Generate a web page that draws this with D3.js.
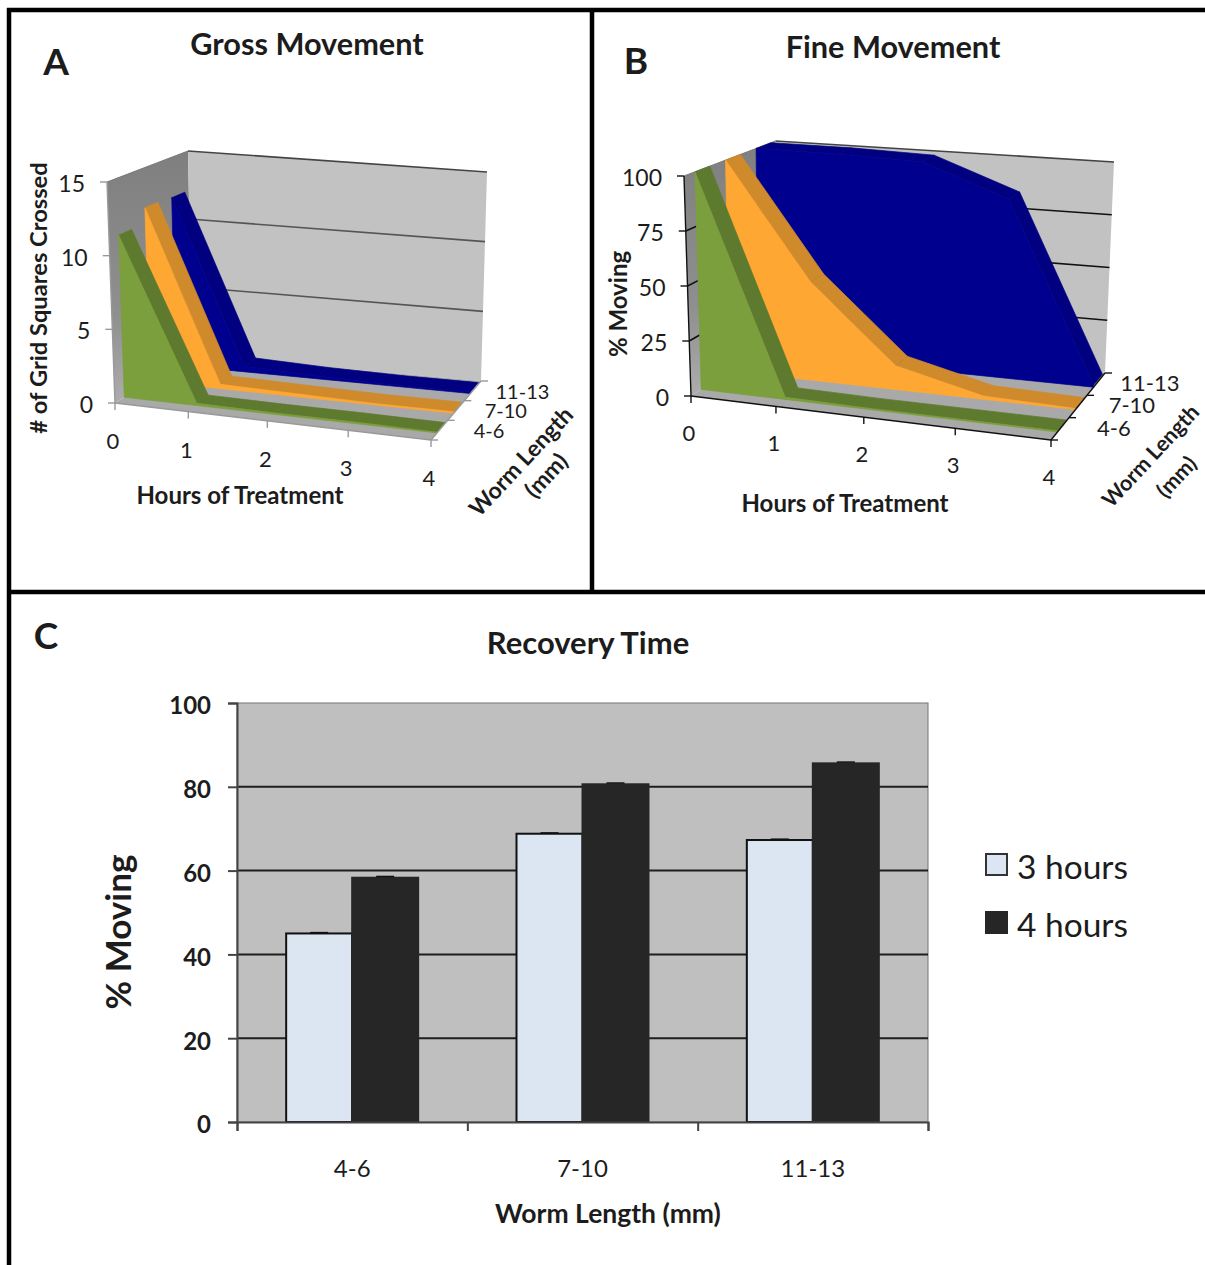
<!DOCTYPE html>
<html>
<head>
<meta charset="utf-8">
<script src="https://cdn.jsdelivr.net/npm/d3@7"></script>
<style>
  html, body { margin: 0; padding: 0; background: #fff; }
  svg { display: block; }
  text { font-family: Lato, "Open Sans", sans-serif; fill: #1c1c1c; }
</style>
</head>
<body>
<div id="chart"></div>
<script>
// panels A and B
const hours = [0, 1, 2, 3, 4];
const lengths = ['4-6', '7-10', '11-13'];
const grossTicks = [0, 5, 10, 15];
const gross46 = [11.1, 0.15, 0.1, 0.1, 0.05];
const gross710 = [12.2, 0.3, 0.2, 0.1, 0.1];
const gross1113 = [12.1, 0.4, 0.2, 0.1, 0.1];
const fineTicks = [0, 25, 50, 75, 100];
const fine46 = [100, 1, 0.5, 0.5, 0.5];
const fine710 = [100, 46, 11, 1.5, 0.5];
const fine1113 = [100, 100, 99, 84, 1];

// panel C
const recoveryTicks = [0, 20, 40, 60, 80, 100];
const recoverySeries = ['3 hours', '4 hours'];
const recovery3h = [45, 68.8, 67.3];
const recovery4h = [58.3, 80.6, 85.6];
const recoveryErr3h = [0.2, 0.2, 0.2];
const recoveryErr4h = [0.3, 0.3, 0.3];

const W = 1205, H = 1265;
const svg = d3.select('#chart').append('svg').attr('width', W).attr('height', H);

const defs = svg.append('defs');
const wallGrad = defs.append('linearGradient').attr('id', 'wall').attr('x1', 0).attr('x2', 0).attr('y1', 0).attr('y2', 1);
wallGrad.append('stop').attr('offset', '0%').attr('stop-color', '#7f7f7f');
wallGrad.append('stop').attr('offset', '65%').attr('stop-color', '#8f8f8f');
wallGrad.append('stop').attr('offset', '100%').attr('stop-color', '#adadad');

function label(g, x, y, txt, size, weight, anchor) {
  return g.append('text').attr('x', x).attr('y', y)
    .attr('font-size', size)
    .attr('font-weight', weight || 400)
    .attr('text-anchor', anchor || 'middle')
    .text(txt);
}

function area3d(p) {
  const g = svg.append('g');
  const c = p.corners;
  const hx = d3.scaleLinear().domain(hours).range(p.hourFrac);
  const vy = d3.scaleLinear().domain([0, d3.max(p.ticks)]).range([0, 1]);
  const band = d3.scaleBand().domain(lengths).range([0.12, 0.95]).paddingInner(0.515);
  const lerp = d3.interpolateNumber;

  // the box is a cube squeezed onto its eight picture corners
  function project(h, v, d) {
    const t = hx(h), u = vy(v);
    const pt = k => {
      const front = lerp(lerp(c.fl0[k], c.fr0[k])(t), lerp(c.fl1[k], c.fr1[k])(t))(u);
      const back = lerp(lerp(c.bl0[k], c.br0[k])(t), lerp(c.bl1[k], c.br1[k])(t))(u);
      return lerp(front, back)(d);
    };
    return [pt(0), pt(1)];
  }
  const poly = (pts, fill, edge) => g.append('path')
    .attr('d', d3.line()(pts) + 'Z')
    .attr('fill', fill)
    .attr('stroke', edge ? fill : 'none')
    .attr('stroke-width', edge ? 0.7 : 0);
  const seg = (a, b, color, w) => g.append('line')
    .attr('x1', a[0]).attr('y1', a[1]).attr('x2', b[0]).attr('y2', b[1])
    .attr('stroke', color).attr('stroke-width', w);

  const [h0, h1] = d3.extent(hours);
  const vMax = d3.max(p.ticks);

  // walls and floor
  poly([project(h0, 0, 0), project(h0, vMax, 0), project(h0, vMax, 1), project(h0, 0, 1)], 'url(#wall)');
  poly([project(h0, 0, 1), project(h0, vMax, 1), project(h1, vMax, 1), project(h1, 0, 1)], '#c2c2c2');
  poly([project(h0, 0, 0), project(h1, 0, 0), project(h1, 0, 1), project(h0, 0, 1)], '#a9a9a9');

  // gridlines
  p.ticks.filter(t => t > 0).forEach(t => {
    seg(project(h0, t, 1), project(h1, t, 1), t === vMax ? '#444' : p.gridColor, 1.6);
    if (p.leftGrid && t < vMax) seg(project(h0, t, 0), project(h0, t, 0.12), p.gridColor, 1.6);
  });
  seg(project(h0, vMax, 0), project(h0, vMax, 1), '#777', 1);

  // series, back to front
  lengths.map((len, i) => i).reverse().forEach(i => {
    const vals = p.series[i];
    const d0 = band(lengths[i]), d1 = d0 + band.bandwidth();
    const col = p.colors[i];
    hours.slice(1).forEach((h, k) => {
      poly([project(hours[k], vals[k], d0), project(h, vals[k + 1], d0),
            project(h, vals[k + 1], d1), project(hours[k], vals[k], d1)], col.top, true);
    });
    const face = hours.map((h, k) => project(h, vals[k], d0));
    poly([project(h0, 0, d0), ...face, project(h1, 0, d0)], col.face, true);
  });

  // axes
  seg(project(h0, 0, 0), project(h0, vMax, 0), p.axisColor, 1.4);
  seg(project(h0, 0, 0), project(h1, 0, 0), p.axisColor, 1.4);
  seg(project(h1, 0, 0), project(h1, 0, 1), p.axisColor, 1.4);

  p.ticks.forEach(t => {
    const a = project(h0, t, 0);
    seg(a, [a[0] - 7, a[1]], p.axisColor, 1.4);
    label(g, a[0] - 22, a[1] + 10, t, 23, 400, 'end');
  });
  hours.forEach(h => {
    const a = project(h, 0, 0);
    seg(a, [a[0], a[1] + 7], p.axisColor, 1.4);
    label(g, a[0] - 2, a[1] + p.hourDy, h, 22);
  });
  d3.range(0, 4).forEach(i => {
    const a = project(h1, 0, i / 3);
    seg(a, [a[0] + 7, a[1]], p.axisColor, 1.4);
  });
  lengths.forEach(len => {
    const a = project(h1, 0, band(len) + band.bandwidth() / 2);
    label(g, a[0] + p.lenOff[0], a[1] + p.lenOff[1] + 7, len, p.lenSize);
  });

  // titles
  label(g, p.title[1], p.title[2], p.title[0], 30.7, 700);
  label(g, p.letter[1], p.letter[2], p.letter[0], 37, 700);
  label(g, p.xTitle[0], p.xTitle[1], 'Hours of Treatment', 24, 700);
  g.append('text').attr('transform', `translate(${p.yTitle[1]},${p.yTitle[2]}) rotate(-90)`)
    .attr('text-anchor', 'middle').attr('font-size', p.yTitle[3]).attr('font-weight', 700).text(p.yTitle[0]);
  g.append('text').attr('transform', `translate(${p.lenTitle[0]},${p.lenTitle[1]}) rotate(-47)`)
    .attr('text-anchor', 'middle').attr('font-size', p.lenTitle[4]).attr('font-weight', 700).text('Worm Length');
  g.append('text').attr('transform', `translate(${p.lenTitle[2]},${p.lenTitle[3]}) rotate(-47)`)
    .attr('text-anchor', 'middle').attr('font-size', p.lenTitle[4]).attr('font-weight', 700).text('(mm)');
}

const seriesColors = [
  { face: '#7b9f3c', top: '#5d7a2e' },
  { face: '#ffa733', top: '#cf8a2c' },
  { face: '#00008f', top: '#000080' }
];

area3d({
  corners: {
    fl0: [115, 403], fr0: [431, 440], bl0: [192, 355], br0: [481, 381],
    fl1: [107, 182], fr1: [433, 212], bl1: [188, 151], br1: [487, 172]
  },
  hourFrac: [0, 0.232, 0.482, 0.738, 1],
  ticks: grossTicks,
  series: [gross46, gross710, gross1113],
  colors: seriesColors,
  gridColor: '#555',
  axisColor: '#999',
  leftGrid: false,
  hourDy: 46,
  lenOff: [48, 3],
  lenSize: 20,
  title: ['Gross Movement', 307, 55],
  letter: ['A', 56, 75],
  xTitle: [240, 504],
  yTitle: ['# of Grid Squares Crossed', 47, 298, 23.7],
  lenTitle: [527, 467, 552, 481, 23]
});

area3d({
  corners: {
    fl0: [691, 396], fr0: [1051, 440], bl0: [776, 341], br0: [1105, 373],
    fl1: [684, 176], fr1: [1057, 208], bl1: [775.5, 141], br1: [1114, 162]
  },
  hourFrac: [0, 0.236, 0.48, 0.734, 1],
  ticks: fineTicks,
  series: [fine46, fine710, fine1113],
  colors: seriesColors,
  gridColor: '#111',
  axisColor: '#111',
  leftGrid: true,
  hourDy: 45,
  lenOff: [52, 2],
  lenSize: 22,
  title: ['Fine Movement', 893, 58],
  letter: ['B', 636, 74],
  xTitle: [845, 512],
  yTitle: ['% Moving', 627, 304, 24],
  lenTitle: [1156, 461, 1182, 482, 21.5]
});

// panel C
const m = { left: 237, right: 928, top: 703, bottom: 1122 };
const xBand = d3.scaleBand().domain(lengths).range([m.left, m.right]);
const xEdge = d3.scaleLinear().domain([0, lengths.length]).range([m.left, m.right]);
const xBar = d3.scaleBand().domain(recoverySeries).range([0, xBand.bandwidth()]).paddingOuter(0.745).paddingInner(0);
const y = d3.scaleLinear().domain([0, 100]).range([m.bottom, m.top]);
const c = svg.append('g');

c.append('rect').attr('x', m.left).attr('y', m.top)
  .attr('width', m.right - m.left).attr('height', m.bottom - m.top)
  .attr('fill', '#bfbfbf').attr('stroke', '#777').attr('stroke-width', 1);

c.append('g').selectAll('line').data(recoveryTicks.filter(t => t > 0 && t < 100)).enter().append('line')
  .attr('x1', m.left).attr('x2', m.right)
  .attr('y1', d => y(d)).attr('y2', d => y(d))
  .attr('stroke', '#1e1e1e').attr('stroke-width', 2);

const barFill = ['#dce6f2', '#262626'];
const barEdge = ['#111', '#262626'];
[recovery3h, recovery4h].forEach((vals, s) => {
  const errs = s === 0 ? recoveryErr3h : recoveryErr4h;
  lengths.forEach((len, i) => {
    const x0 = xBand(len) + xBar(recoverySeries[s]);
    c.append('rect').attr('x', x0).attr('y', y(vals[i]))
      .attr('width', xBar.bandwidth()).attr('height', m.bottom - y(vals[i]))
      .attr('fill', barFill[s]).attr('stroke', barEdge[s]).attr('stroke-width', 2);
    const cx = x0 + xBar.bandwidth() / 2;
    c.append('line').attr('x1', cx - 9).attr('x2', cx + 9)
      .attr('y1', y(vals[i] + errs[i])).attr('y2', y(vals[i] + errs[i]))
      .attr('stroke', '#111').attr('stroke-width', 1.5);
  });
});

const yAxis = c.append('g').attr('transform', `translate(${m.left},0)`)
  .call(d3.axisLeft(y).tickValues(recoveryTicks).tickSize(9).tickPadding(17));
yAxis.selectAll('text').attr('font-size', 24).attr('font-weight', 700).attr('dy', '.45em');
const xTicks = c.append('g').attr('transform', `translate(0,${m.bottom})`)
  .call(d3.axisBottom(xEdge).tickValues(d3.range(0, lengths.length + 1)).tickSize(9).tickFormat(''));
const xLabels = c.append('g').attr('transform', `translate(0,${m.bottom})`)
  .call(d3.axisBottom(xBand).tickSize(0).tickPadding(38));
xLabels.select('.domain').remove();
xLabels.selectAll('text').attr('font-size', 24);
[yAxis, xTicks].forEach(a => a.selectAll('path,line').attr('stroke', '#444').attr('stroke-width', 2));

label(c, 588, 654, 'Recovery Time', 31, 700);
label(c, 46, 649, 'C', 37, 700);
label(c, 608, 1223, 'Worm Length (mm)', 26.5, 700);
c.append('text').attr('transform', 'translate(131,932) rotate(-90)')
  .attr('text-anchor', 'middle').attr('font-size', 35).attr('font-weight', 700).text('% Moving');

// legend
const legendY = d3.scalePoint().domain(recoverySeries).range([865, 923]);
recoverySeries.forEach((s, i) => {
  c.append('rect').attr('x', 986).attr('y', legendY(s) - 11).attr('width', 21).attr('height', 21)
    .attr('fill', barFill[i]).attr('stroke', i === 0 ? '#333' : '#262626').attr('stroke-width', 2);
  label(c, 1017, legendY(s) + 14, s, 33.5, 400, 'start');
});

// frame round the panels
const frame = svg.append('g').attr('stroke', '#000').attr('stroke-width', 4.5);
frame.append('line').attr('x1', 9).attr('x2', 9).attr('y1', 8).attr('y2', H);
frame.append('line').attr('x1', 7).attr('x2', W).attr('y1', 10).attr('y2', 10);
frame.append('line').attr('x1', 592).attr('x2', 592).attr('y1', 10).attr('y2', 592);
frame.append('line').attr('x1', 9).attr('x2', W).attr('y1', 592).attr('y2', 592);
</script>
</body>
</html>
